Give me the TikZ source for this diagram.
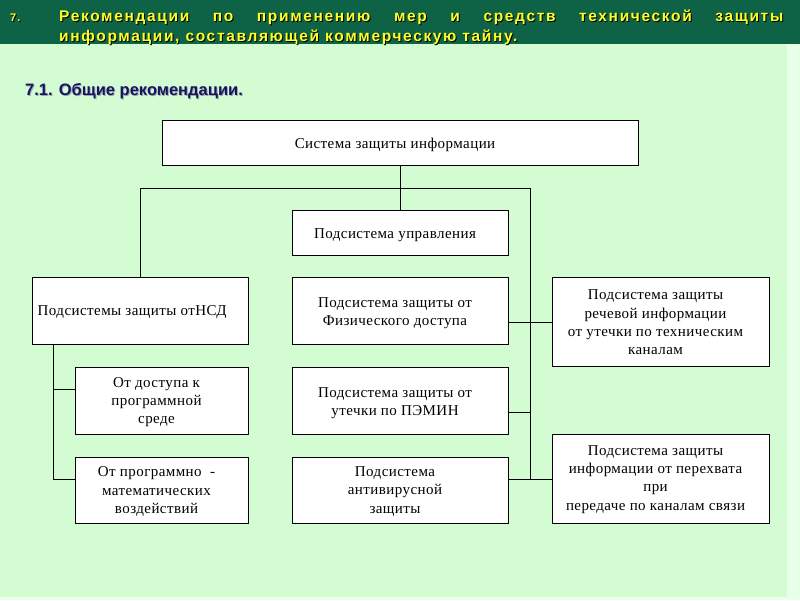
\documentclass[tikz,border=0pt]{standalone}
\usepackage{fontspec}
\setmainfont{Liberation Serif}[LetterSpace=2.9]
\newfontfamily\hdr{Liberation Sans}[LetterSpace=10.7]
\newfontfamily\subhdr{Liberation Sans}
\usetikzlibrary{calc,shadows}
\definecolor{bg}{RGB}{212,252,210}
\definecolor{bgedge}{RGB}{232,255,232}
\definecolor{band}{RGB}{14,98,70}
\definecolor{ttl}{RGB}{255,255,40}
\definecolor{navy}{RGB}{20,20,100}
\newcommand\mylineA{\makebox[724pt][s]{Рекомендации по применению мер и средств технической защиты}}
\newcommand\mylineB{информации, составляющей коммерческую тайну.}
\begin{document}
\begin{tikzpicture}[x=1pt,y=-1pt,
  box/.style={draw, fill=white, line width=1pt, inner sep=0pt,
              general shadow={fill=black, shadow xshift=0.9pt, shadow yshift=-0.9pt}},
  lbl/.style={inner sep=0pt, align=center, xshift=-5pt, font=\fontsize{15}{18.3}\selectfont},
  conn/.style={line width=1pt},
  ttlfont/.style={font=\hdr\bfseries\fontsize{15.5}{20}\selectfont, inner sep=0pt, anchor=base west}]
\fill[bg] (0,0) rectangle (800,600);
\useasboundingbox (0,0) rectangle (800,600);
\fill[bgedge] (787,44) rectangle (800,600);
\fill[bgedge] (0,597) rectangle (800,600);
\fill[band] (0,0) rectangle (800,44);
% title
\node[ttlfont, font=\hdr\bfseries\fontsize{11}{13}\selectfont, text=black] (n7s) at (11,22) {7.};
\node[ttlfont, font=\hdr\bfseries\fontsize{11}{13}\selectfont, text=ttl] (n7) at (10,21) {7.};
\node[ttlfont, text=black] (t1s) at (60,22) {\mylineA};
\node[ttlfont, text=ttl] (t1) at (59,21) {\mylineA};
\node[ttlfont, text=black] (t2s) at (60,42) {\mylineB};
\node[ttlfont, text=ttl] (t2) at (59,41) {\mylineB};
% subtitle
\node[ttlfont, font=\subhdr\bfseries\fontsize{16.5}{18}\selectfont, text=black!35] (subs) at (26,96) {7.1. Общие рекомендации.};
\node[ttlfont, font=\subhdr\bfseries\fontsize{16.5}{18}\selectfont, text=navy] (sub) at (25,95) {7.1. Общие рекомендации.};
% boxes
\node[box, minimum width=476pt, minimum height=45pt] (top) at (400,142.5) {};
\node[box, minimum width=216pt, minimum height=45pt] (upr) at (400,232.5) {};
\node[box, minimum width=216pt, minimum height=67pt] (nsd) at (140,310.5) {};
\node[box, minimum width=216pt, minimum height=67pt] (fiz) at (400,310.5) {};
\node[box, minimum width=217pt, minimum height=89pt] (r1) at (660.5,321.5) {};
\node[box, minimum width=216pt, minimum height=67pt] (pem) at (400,400.5) {};
\node[box, minimum width=216pt, minimum height=66pt] (anti) at (400,490) {};
\node[box, minimum width=217pt, minimum height=89pt] (r2) at (660.5,478.5) {};
\node[box, minimum width=173pt, minimum height=67pt] (s1) at (161.5,400.5) {};
\node[box, minimum width=173pt, minimum height=66pt] (s2) at (161.5,490) {};
% labels
\node[lbl, yshift=-2.5pt] (topT) at (top) {Система защиты информации};
\node[lbl, yshift=-2.5pt] (uprT) at (upr) {Подсистема управления};
\node[lbl, xshift=5pt, yshift=-2pt, anchor=west] (nsdT) at ([xshift=6pt]nsd.west) {Подсистемы защиты отНСД};
\node[lbl, yshift=-2.5pt] (fizT) at (fiz) {Подсистема защиты от\\Физического доступа};
\node[lbl, yshift=-1pt] (r1T) at (r1) {Подсистема защиты\\речевой информации\\от утечки по техническим\\каналам};
\node[lbl, yshift=-2.5pt] (pemT) at (pem) {Подсистема защиты от\\утечки по ПЭМИН};
\node[lbl, yshift=-1.5pt] (antiT) at (anti) {Подсистема\\антивирусной\\защиты};
\node[lbl, yshift=-1pt] (r2T) at (r2) {Подсистема защиты\\информации от перехвата\\при\\передаче по каналам связи};
\node[lbl, yshift=-1.5pt] (s1T) at (s1) {От доступа к\\программной\\среде};
\node[lbl, yshift=-1.5pt] (s2T) at (s2) {От программно~ -\\математических\\воздействий};
% connectors
\coordinate (j) at (400.5,188.5);
\coordinate (rb) at (530.5,479.5);
\coordinate (lb) at (53.5,479.5);
\coordinate (l1) at (53.5,389.5);
\coordinate (f1) at ([yshift=-12pt]fiz.east);
\coordinate (p1) at ([yshift=-12pt]pem.east);
\coordinate (a1) at (anti.east |- rb);
\draw[conn] (top.south -| j) -- (upr.north -| j);
\draw[conn] ([xshift=0.5pt]nsd.north) |- (j) -| (rb);
\draw[conn] (f1) -- (f1 -| r1.west);
\draw[conn] (p1) -- (p1 -| rb);
\draw[conn] (a1) -- (a1 -| r2.west);
\draw[conn] (nsd.south -| lb) -- (lb) -- (lb -| s2.west);
\draw[conn] (l1) -- (l1 -| s1.west);
\end{tikzpicture}
\end{document}
